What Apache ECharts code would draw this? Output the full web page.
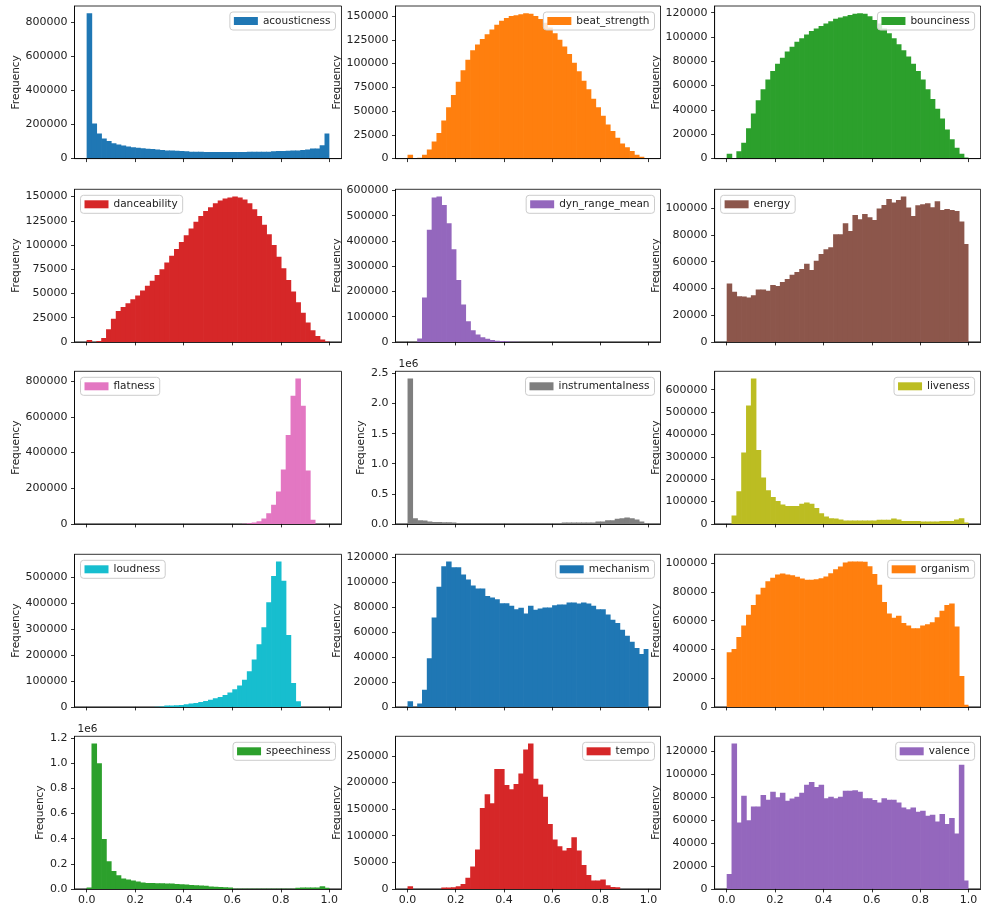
<!DOCTYPE html>
<html><head><meta charset="utf-8">
<script src="https://cdn.jsdelivr.net/npm/echarts@6/dist/echarts.min.js"></script>
<style>html,body{margin:0;padding:0;background:#fff}#c{width:981px;height:912px}</style>
</head><body><div id="c"></div>
<script>
// ---------------- data (50 shared bins over [0, 1]) ----------------
const features = ['acousticness','beat_strength','bounciness','danceability','dyn_range_mean','energy',
  'flatness','instrumentalness','liveness','loudness','mechanism','organism','speechiness','tempo','valence'];
const colors = ['#1f77b4','#ff7f0e','#2ca02c','#d62728','#9467bd','#8c564b','#e377c2','#7f7f7f','#bcbd22','#17becf',
  '#1f77b4','#ff7f0e','#2ca02c','#d62728','#9467bd'];
const binStart = 0, binEnd = 1, binCount = 50;

const acousticness = [855000,206000,147000,118000,104000,91000,83000,77000,71000,67000,64000,61000,58000,56000,53000,51000,48000,47000,46000,45000,43000,41000,40000,40000,39000,39000,39000,39000,39000,39000,39000,39000,39000,40000,40000,40000,41000,41000,43000,44000,45000,46000,47000,48000,50000,53000,59000,60000,79000,147000];
const beat_strength = [4000,0,1000,4000,9500,18000,27000,40000,54000,67000,81000,93000,104000,114000,120000,126000,131000,136000,141000,145000,148000,150000,151000,152000,153000,152500,150000,147000,143000,138000,132000,125000,118000,110000,101000,92000,82000,73000,63000,54000,45000,36000,29000,22000,16000,12000,8000,4000,2000,500];
const bounciness = [4000,0,6000,13000,25000,37000,48000,57000,65000,72000,78000,83000,88000,92000,96000,99000,102000,105000,107000,109000,111000,113000,115000,116000,117000,118000,119000,119500,119000,117000,114000,111000,107000,103000,99000,94000,89000,84000,78000,72000,65000,57000,49000,41000,33000,24000,16000,9000,4000,1000];
const danceability = [2000,0,1000,4000,13000,24000,32000,36000,40000,44000,48000,53000,58000,63000,69000,75000,82000,89000,96000,103000,110000,117000,124000,130000,135000,139000,143000,146000,148000,149000,150000,149000,147000,143000,137000,130000,121000,111000,100000,88000,76000,64000,52000,41000,30000,20000,12000,6000,2500,500];
const dyn_range_mean = [0,0,13000,176000,444000,572000,576000,543000,470000,367000,245000,148000,82000,46000,29000,18500,12000,8000,5000,4000,3000,1000,500,0,0,0,0,0,0,0,0,0,0,0,0,0,0,0,0,0,0,0,0,0,0,0,0,0,0,0];
const energy = [43750,37500,34250,34000,33250,35000,39250,39250,38250,42500,41750,44750,47000,50250,52250,54500,58500,53750,60750,65750,69250,70750,80500,80500,88750,83000,95000,91750,95750,93250,91250,99750,102500,107000,104250,106250,108750,100500,94250,102250,103000,103750,100750,105250,98750,99500,98750,98000,90000,73250];
const flatness = [0,0,0,0,0,0,0,0,0,0,0,0,0,0,0,0,0,0,0,0,0,0,0,0,0,0,0,0,0,0,0,0,1000,3000,7500,15000,30000,60000,107000,181000,305000,499000,719000,815000,662000,299000,22600,0,0,0];
const instrumentalness = [2416000,95000,61000,56000,38000,33000,30000,28000,26000,22000,12000,11000,10000,10000,9000,9000,9000,8000,8000,8000,8000,8000,8000,8000,8000,8000,8000,8000,8000,8000,9000,10000,22000,22000,22000,22000,22000,22000,22000,39000,39000,61000,61000,84000,95000,106000,95000,72000,39000,11000];
const liveness = [0,37500,145500,319500,529500,649500,330000,207000,150000,120000,102000,87000,79500,79500,79500,90000,96000,90000,70500,48000,33000,25500,24000,19500,15000,15000,15000,15000,15000,15000,15000,18000,18000,18000,24000,19500,13500,13500,13500,13500,10500,10500,10500,10500,13500,13500,13500,19500,25500,6000];
const loudness = [0,0,0,0,0,0,0,0,0,0,0,0,0,0,1000,2000,5000,5000,6400,7700,10000,12800,15400,19200,23000,28000,33000,38500,46000,56000,68000,83000,105000,138000,183000,242000,308000,404000,506000,561500,487000,278000,92000,22000,0,0,0,0,0,0];
const mechanism = [4500,0,2650,13800,39000,71700,96400,112800,116500,112000,112000,106200,102200,97400,95000,95000,88900,87600,86300,83100,83100,81000,78300,79400,74900,81000,77800,78900,79700,79700,81500,82000,82000,83600,83600,82800,83600,82800,81000,78300,78300,74100,69800,67200,61900,57100,52300,47300,42500,46500];
const organism = [38100,40400,48700,56600,64200,70900,78300,82900,87500,89900,92200,92900,92200,91700,90600,89400,88500,88500,88900,89600,90800,93100,95900,97700,100500,101200,101200,101200,101000,98000,92600,85000,73000,65000,62000,63500,58500,56600,54700,54700,56600,57500,59000,62500,67000,71000,72000,56000,21500,1500];
const speechiness = [10600,1158000,1001000,397000,220000,143000,108600,82000,74000,66000,58000,51000,48000,47000,46000,45000,44000,43000,40000,38000,36000,32000,29000,27000,25000,20000,17000,15000,13000,12000,2000,1500,1200,1000,1000,1000,800,800,800,800,800,800,1000,9000,11000,11000,12000,12000,21000,9000];
const tempo = [5000,0,0,0,0,0,0,2500,2500,3000,5000,9400,21000,42000,74000,152000,178000,161000,225000,225000,195000,187000,197000,217000,262000,273000,207000,196000,173000,122000,93000,80000,72000,77000,97000,72000,45000,26000,15700,15700,17500,7000,3800,3000,0,0,0,0,0,0];
const valence = [13000,127000,58000,81400,60000,72000,72000,82000,78000,85000,80000,84000,77000,79000,80500,84000,91000,93500,89000,91000,79300,80500,79300,80500,85700,85700,86300,85000,79300,79300,77600,75600,79300,77900,77900,75600,71200,69700,71200,67400,68300,63900,64800,59000,65400,56700,61900,48500,108400,7300];

const seriesValues = [acousticness,beat_strength,bounciness,danceability,dyn_range_mean,energy,flatness,
  instrumentalness,liveness,loudness,mechanism,organism,speechiness,tempo,valence];

// tick labels
const xTicks = [0, 0.2, 0.4, 0.6, 0.8, 1.0];
const yTickSteps = [200000,25000,20000,25000,100000,20000,200000,500000,100000,100000,20000,20000,200000,50000,20000];
const sciFeatures = ['instrumentalness','speechiness'];   // labelled in units of 1e6
const sciText = '1e6';
const leftLegend = ['danceability','energy','flatness','loudness'];
const yLabel = 'Frequency';

// ---------------- layout ----------------
const W = 981, H = 912;
const colLeft = [74.5, 395.5, 714.6], colWidth = [267, 265, 266];
const rowTop = [6, 189.3, 371.3, 554.3, 736.3], rowHeight = 152.6;
const FONT = 'DejaVu Sans';
const TXT = '#222';

const mctx = document.createElement('canvas').getContext('2d');
mctx.font = '11px "' + FONT + '"';

const grids = [], xAxes = [], yAxes = [], series = [], legends = [], graphics = [];
features.forEach((name, i) => {
  const r = Math.floor(i / 3), c = i % 3;
  const vals = seriesValues[i];
  const sci = sciFeatures.includes(name);
  const ymax = Math.max(...vals) * 1.05;
  const step = yTickSteps[i];
  const yTicks = [];
  for (let k = 0; k * step <= ymax; k++) yTicks.push(k * step);
  const fmtY = v => sci ? (v / 1e6).toFixed(1) : String(Math.round(v));
  const lw = Math.max(...yTicks.map(v => mctx.measureText(fmtY(v)).width));
  const left = colLeft[c], top = rowTop[r], width = colWidth[c];
  grids.push({left, top, width, height: rowHeight, show: true, borderColor: '#000', borderWidth: 0.8, backgroundColor: 'transparent'});
  xAxes.push({
    gridIndex: i, type: 'value', min: -0.05, max: 1.05, z: 3,
    splitLine: {show: false},
    axisLine: {show: true, onZero: false, lineStyle: {color: '#000', width: 0.8}},
    axisTick: {show: true, customValues: xTicks, length: 3.5, lineStyle: {color: '#000', width: 0.8}},
    axisLabel: {show: r === 4, customValues: xTicks, margin: 6, fontSize: 11, fontFamily: FONT, color: TXT,
      formatter: v => v.toFixed(1)}
  });
  yAxes.push({
    gridIndex: i, type: 'value', min: 0, max: ymax, z: 3,
    name: yLabel, nameLocation: 'middle', nameRotate: 90, nameGap: lw + 11,
    nameTextStyle: {fontSize: 10.5, fontFamily: FONT, color: TXT},
    splitLine: {show: false},
    axisLine: {show: true, onZero: false, lineStyle: {color: '#000', width: 0.8}},
    axisTick: {show: true, customValues: yTicks, length: 3.5, lineStyle: {color: '#000', width: 0.8}},
    axisLabel: {show: true, customValues: yTicks, margin: 7, fontSize: 11, fontFamily: FONT, color: TXT, formatter: fmtY}
  });
  const w = (binEnd - binStart) / binCount;
  const color = colors[i];
  series.push({
    name, type: 'custom', xAxisIndex: i, yAxisIndex: i, clip: true,
    itemStyle: {color},
    encode: {x: [0, 1], y: 2},
    data: vals.map((v, k) => [binStart + k * w, binStart + (k + 1) * w, v]),
    renderItem: (params, api) => {
      const p0 = api.coord([api.value(0), api.value(2)]);
      const p1 = api.coord([api.value(1), 0]);
      const last = params.dataIndex === binCount - 1;
      // small overlap into the next bin hides anti-aliasing seams
      return {type: 'rect', shape: {x: p0[0], y: p0[1], width: p1[0] - p0[0] + (last ? 0 : 0.7), height: p1[1] - p0[1]},
        style: {fill: color}};
    }
  });
  const lg = {
    data: [name], top: top + 6, orient: 'horizontal', icon: 'rect', itemWidth: 24, itemHeight: 8,
    padding: [3.5, 5, 3.5, 4], borderColor: '#ccc', borderWidth: 1, borderRadius: 3,
    backgroundColor: 'rgba(255,255,255,0.8)', selectedMode: false,
    textStyle: {fontSize: 10.5, fontFamily: FONT, color: TXT}
  };
  if (leftLegend.includes(name)) lg.left = left + 6; else lg.right = W - (left + width) + 6;
  legends.push(lg);
  if (sci) graphics.push({type: 'text', left: left + 3, top: top - 13,
    style: {text: sciText, fontSize: 10.5, fontFamily: FONT, fill: TXT}});
});

const chart = echarts.init(document.getElementById('c'), null, {renderer: 'canvas', width: W, height: H});
chart.setOption({
  animation: false, backgroundColor: '#fff',
  grid: grids, xAxis: xAxes, yAxis: yAxes, series, legend: legends, graphic: graphics
});
</script></body></html>
